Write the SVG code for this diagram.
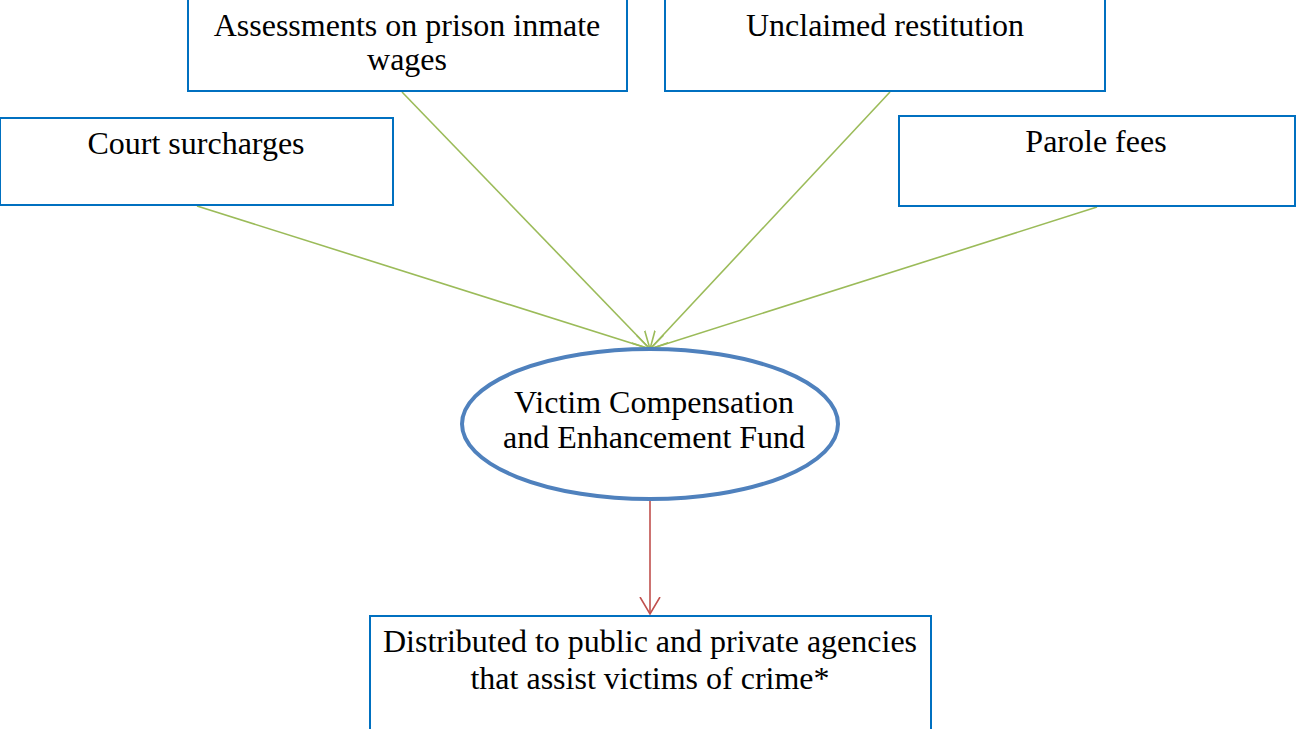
<svg xmlns="http://www.w3.org/2000/svg" width="1296" height="729" viewBox="0 0 1296 729">
<style>
.box{fill:#fff;stroke:#0070C0;stroke-width:2}
.t{font-family:"Liberation Serif","Times New Roman",serif;font-size:32px;fill:#000;text-anchor:middle}
.g{stroke:#9BBB59;stroke-width:1.6;fill:none}
.r{stroke:#C0504D;stroke-width:1.6;fill:none}
</style>
<defs>
<marker id="ag" markerUnits="userSpaceOnUse" markerWidth="22" markerHeight="22" refX="17" refY="10" orient="auto" viewBox="0 0 22 20">
<path d="M0,1 L17,10 L0,19" fill="none" stroke="#9BBB59" stroke-width="1.6"/>
</marker>
<marker id="ar" markerUnits="userSpaceOnUse" markerWidth="22" markerHeight="22" refX="17" refY="10" orient="auto" viewBox="0 0 22 20">
<path d="M0,0 L17,10 L0,20" fill="none" stroke="#C0504D" stroke-width="1.6"/>
</marker>
</defs>
<g id="connectors">
<line class="g" x1="197" y1="206" x2="650" y2="349" marker-end="url(#ag)"/>
<line class="g" x1="402" y1="92" x2="650" y2="349" marker-end="url(#ag)"/>
<line class="g" x1="890" y1="92" x2="650" y2="349" marker-end="url(#ag)"/>
<line class="g" x1="1097" y1="207" x2="650" y2="349" marker-end="url(#ag)"/>
<line class="r" x1="650" y1="499" x2="650" y2="614" marker-end="url(#ar)"/>
</g>
<g id="n-assess">
<rect class="box" x="188" y="-2" width="439" height="93"/>
<text class="t" x="407" y="36">Assessments on prison inmate</text>
<text class="t" x="407" y="70">wages</text>
</g>
<g id="n-unclaimed">
<rect class="box" x="665" y="-2" width="440" height="93"/>
<text class="t" x="885" y="36">Unclaimed restitution</text>
</g>
<g id="n-court">
<rect class="box" x="0" y="118" width="393" height="87"/>
<text class="t" x="196" y="154">Court surcharges</text>
</g>
<g id="n-parole">
<rect class="box" x="899" y="116" width="396" height="90"/>
<text class="t" x="1096" y="152">Parole fees</text>
</g>
<g id="n-fund">
<ellipse cx="650" cy="424" rx="188" ry="75" fill="#fff" stroke="#4F81BD" stroke-width="4"/>
<text class="t" x="654" y="413">Victim Compensation</text>
<text class="t" x="654" y="448">and Enhancement Fund</text>
</g>
<g id="n-dist">
<rect class="box" x="370" y="616" width="561" height="120"/>
<text class="t" x="650" y="652">Distributed to public and private agencies</text>
<text class="t" x="650" y="689">that assist victims of crime*</text>
</g>
</svg>
